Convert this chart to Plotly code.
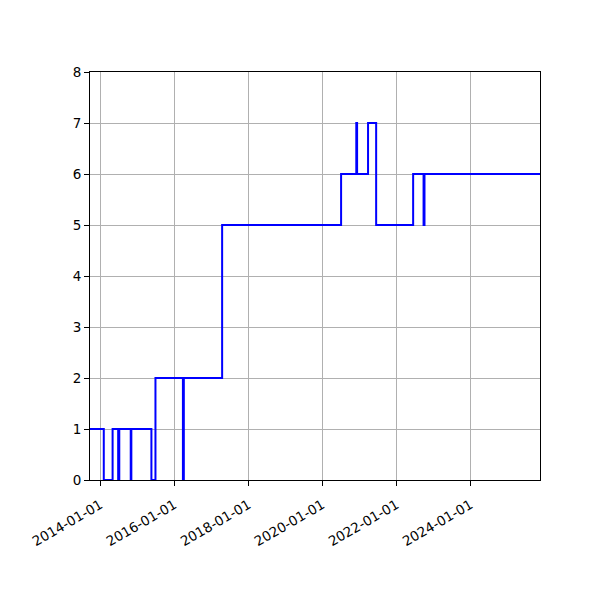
import plotly.graph_objects as go

# step series: value holds from each date until the next one
dates = [
    "2013-09-01", "2014-02-03", "2014-05-01", "2014-06-25", "2014-07-06",
    "2014-10-27", "2014-11-02", "2015-05-19", "2015-06-28", "2016-03-25",
    "2016-04-03", "2017-04-16", "2020-07-03", "2020-11-30", "2020-12-08",
    "2021-03-26", "2021-06-14", "2022-06-14", "2022-09-25", "2022-10-04",
    "2025-12-31",
]
values = [1, 0, 1, 0, 1, 0, 1, 0, 2, 0, 2, 5, 6, 7, 6, 7, 5, 6, 5, 6, 6]

tick_dates = ["2014-01-01", "2016-01-01", "2018-01-01", "2020-01-01", "2022-01-01", "2024-01-01"]

fig = go.Figure(go.Scatter(
    x=dates,
    y=values,
    mode="lines",
    line=dict(color="blue", width=2, shape="hv"),
))

axis_style = dict(
    showline=True, linecolor="black", linewidth=1, mirror=True,
    ticks="outside", ticklen=5, tickcolor="black",
    showgrid=True, gridcolor="#b0b0b0", gridwidth=1,
    zeroline=False,
    tickfont=dict(family="DejaVu Sans", size=13.5, color="black"),
)

fig.update_xaxes(
    range=["2013-09-20", "2025-11-17"],
    tickvals=tick_dates,
    tickformat="%Y-%m-%d",
    tickangle=-30,
    ticklabelstandoff=6,
    **axis_style,
)
fig.update_yaxes(range=[0, 8], dtick=1, **axis_style)

# page body adds 8px offset, so margins are trimmed to compensate
fig.update_layout(
    width=600, height=600,
    margin=dict(l=82, r=68, t=64, b=128),
    paper_bgcolor="white",
    plot_bgcolor="white",
    showlegend=False,
)

fig.write_html("out.html")
